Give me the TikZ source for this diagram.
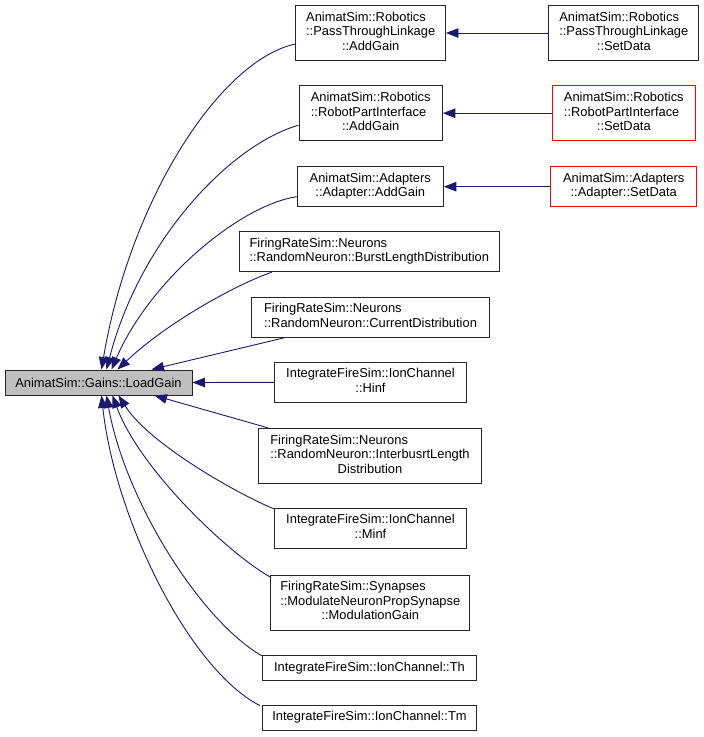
\documentclass[tikz,border=0pt]{standalone}
\usepackage{fontspec}
\setmainfont{Liberation Sans}
\usetikzlibrary{arrows.meta,calc}
\definecolor{edgeblue}{HTML}{191970}
\definecolor{nodegray}{HTML}{BFBFBF}
\newcommand{\ml}[2]{\begin{tabular}{@{}l@{}}#1\\\multicolumn{1}{@{}c@{}}{#2}\end{tabular}}
\begin{document}
\begin{tikzpicture}[x=1pt,y=-1pt,
  box/.style={draw=black!85, line width=1pt, inner sep=0pt, align=center,
    font=\fontsize{12.9}{14.5}\selectfont},
  redbox/.style={box, draw=red},
  calls/.style={draw=edgeblue, line width=0.9pt, -{Triangle[length=12.5pt,width=9.5pt]}}]
\useasboundingbox (0,0) rectangle (704,737);
% nodes
\node[box, fill=nodegray, minimum width=187, minimum height=25] (lg) at (98.5,382.5) {AnimatSim::Gains::LoadGain};
\node[box, minimum width=149.5, minimum height=55] (ptlA) at (370.7,33) {\ml{AnimatSim::Robotics\\::PassThroughLinkage}{::AddGain}};
\node[box, minimum width=149.7, minimum height=55] (ptlS) at (623.8,33) {\ml{AnimatSim::Robotics\\::PassThroughLinkage}{::SetData}};
\node[box, minimum width=143.3, minimum height=55] (rpiA) at (370.7,113.2) {\ml{AnimatSim::Robotics\\::RobotPartInterface}{::AddGain}};
\node[redbox, minimum width=143, minimum height=55] (rpiS) at (623.8,113.2) {\ml{AnimatSim::Robotics\\::RobotPartInterface}{::SetData}};
\node[box, minimum width=146, minimum height=40] (adA) at (370.3,186.7) {\ml{AnimatSim::Adapters}{::Adapter::AddGain}};
\node[redbox, minimum width=146, minimum height=40] (adS) at (623.7,186.7) {\ml{AnimatSim::Adapters}{::Adapter::SetData}};
\node[box, minimum width=260, minimum height=40] (burst) at (369.3,251.7) {\ml{FiringRateSim::Neurons}{::RandomNeuron::BurstLengthDistribution}};
\node[box, minimum width=237.6, minimum height=40] (cur) at (370.5,317.3) {\ml{FiringRateSim::Neurons}{::RandomNeuron::CurrentDistribution}};
\node[box, minimum width=192.4, minimum height=40] (hinf) at (370.5,382.3) {\ml{IntegrateFireSim::IonChannel}{::Hinf}};
\node[box, minimum width=223.4, minimum height=55] (inter) at (370,455.8) {\ml{FiringRateSim::Neurons\\::RandomNeuron::InterbusrtLength}{Distribution}};
\node[box, minimum width=192.4, minimum height=40] (minf) at (370.5,528.3) {\ml{IntegrateFireSim::IonChannel}{::Minf}};
\node[box, minimum width=199.3, minimum height=55] (mod) at (370.3,602.5) {\ml{FiringRateSim::Synapses\\::ModulateNeuronPropSynapse}{::ModulationGain}};
\node[box, minimum width=214.4, minimum height=25] (th) at (369.5,667.8) {IntegrateFireSim::IonChannel::Th};
\node[box, minimum width=214.4, minimum height=25] (tm) at (369.5,717.5) {IntegrateFireSim::IonChannel::Tm};
% edges
\draw[calls] (ptlS.west) -- (ptlA.east);
\draw[calls] (rpiS.west) -- (rpiA.east);
\draw[calls] (adS.west) -- (adA.east);
\draw[calls] ($(ptlA.west)+(0,11)$) .. controls (220,60) and (130,200) .. ($(lg.north west)+(97,0)$);
\draw[calls] ($(rpiA.west)+(0,12)$) .. controls (230,145) and (140,240) .. ($(lg.north west)+(102,0)$);
\draw[calls] ($(adA.west)+(0,10)$) .. controls (240,205) and (150,280) .. ($(lg.north west)+(107,0)$);
\draw[calls] ($(burst.south west)+(33,0)$) .. controls (240,283) and (170,320) .. ($(lg.north west)+(113,0)$);
\draw[calls] ($(cur.south west)+(33,0)$) -- ($(lg.north west)+(147,0)$);
\draw[calls] (hinf.west) -- (lg.east);
\draw[calls] ($(inter.north west)+(10,0)$) -- ($(lg.south west)+(150,0)$);
\draw[calls] ($(minf.north west)+(0,1)$) .. controls (240,495) and (150,445) .. ($(lg.south west)+(114,0)$);
\draw[calls] ($(mod.north west)+(1,3)$) .. controls (230,555) and (140,470) .. ($(lg.south west)+(108,0)$);
\draw[calls] ($(th.north west)+(0,1)$) .. controls (200,620) and (125,500) .. ($(lg.south west)+(102,0)$);
\draw[calls] ($(tm.north west)+(-2,1)$) .. controls (190,670) and (115,520) .. ($(lg.south west)+(97,0)$);
\end{tikzpicture}
\end{document}
